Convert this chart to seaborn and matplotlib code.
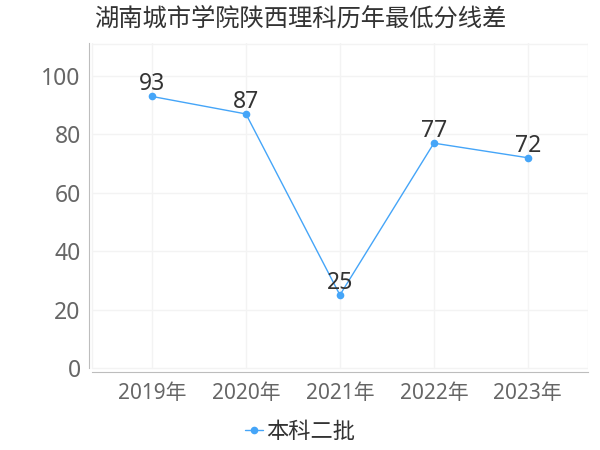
import pandas as pd
import matplotlib
matplotlib.use("Agg")
import matplotlib.pyplot as plt
import seaborn as sns

# data
years = ["2019年", "2020年", "2021年", "2022年", "2023年"]
diff = [93, 87, 25, 77, 72]
series_name = "本科二批"
title = "湖南城市学院陕西理科历年最低分线差"

df = pd.DataFrame({"year": years, "diff": diff})

sns.set_style("white")
plt.rcParams["font.family"] = ["Noto Sans", "Noto Sans CJK SC", "DejaVu Sans"]

line_color = "#45a5f8"
grid_color = "#f3f3f3"
axis_color = "#bdbdbd"

fig = plt.figure(figsize=(6, 4.5), dpi=100)
ax = fig.add_axes([89 / 600, 1 - 372 / 450, (588 - 89) / 600, (372 - 43) / 450])

sns.lineplot(data=df, x="year", y="diff", ax=ax, color=line_color, lw=1,
             marker="o", markersize=5.5, markeredgewidth=0, label=series_name, sort=False)

x_left, x_right = -0.64, 4.64
ymin, ymax = -1.37, 111.3
ax.set_xlim(-0.67, x_right)
ax.set_ylim(ymin, ymax)

# grid
for v in [0, 20, 40, 60, 80, 100, ymax - 0.3]:
    ax.plot([x_left, x_right], [v, v], color=grid_color, lw=1, zorder=0)
for xv in [x_left, 0, 1, 2, 3, 4, x_right]:
    ax.plot([xv, xv], [0, ymax], color=grid_color, lw=1, zorder=0)

ax.set_yticks([0, 20, 40, 60, 80, 100])
ax.tick_params(axis="y", length=2, color=axis_color, labelsize=16.5, labelcolor="#666666", pad=4)
ax.tick_params(axis="x", length=4, color=axis_color, labelsize=15, labelcolor="#666666", pad=4)
ax.set_xlabel("")
ax.set_ylabel("")

for s in ["top", "right"]:
    ax.spines[s].set_visible(False)
ax.spines["left"].set_color(axis_color)
ax.spines["bottom"].set_color(axis_color)
ax.spines["left"].set_bounds(0, ymax)
ax.spines["bottom"].set_bounds(x_left, x_right)

for i, v in enumerate(diff):
    ax.annotate(str(v), (i, v), xytext=(0, 0), textcoords="offset points",
                ha="center", va="bottom", fontsize=16.5, color="#333333")

ax.get_legend().remove()
handles, labels = ax.get_legend_handles_labels()
fig.legend(handles, labels, loc="center", bbox_to_anchor=(0.5, 1 - 432 / 450),
           frameon=False, fontsize=16, handlelength=0.8, handletextpad=0.15,
           labelcolor="#333333")

fig.text(0.5, 1 - 20 / 450, title, ha="center", va="center", fontsize=17.5, color="#333333")

fig.savefig("out.png", dpi=100)
